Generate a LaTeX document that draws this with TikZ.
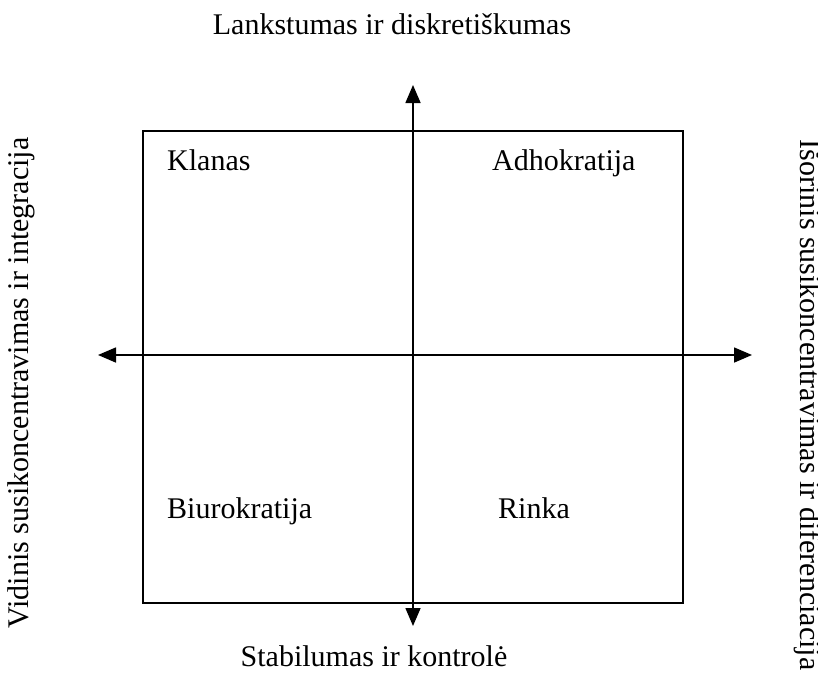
\documentclass[tikz,border=0pt]{standalone}
\usepackage{fontspec}
\setmainfont{Liberation Serif}
\usetikzlibrary{arrows.meta}
\tikzset{qaxis/.style={{Triangle[length=18pt,width=15pt]}-{Triangle[length=18pt,width=15pt]}, line width=1.6pt},
  qlabel/.style={anchor=base west, inner sep=0pt, font=\fontsize{30}{36}\selectfont},
  qtitle/.style={anchor=base, inner sep=0pt, font=\fontsize{30}{36}\selectfont}}

\begin{document}
\begin{tikzpicture}[x=1pt, y=-1pt]
\useasboundingbox (0,0) rectangle (818,672);
\node[draw, line width=1.6pt, minimum width=540pt, minimum height=472pt, inner sep=0pt] (frame) at (413,367) {};
\coordinate (top) at (413,85);
\coordinate (bot) at (413,626);
\coordinate (lft) at (98,355);
\coordinate (rgt) at (752,355);
\draw[qaxis] (bot) -- (top);
\draw[qaxis] (lft) -- (rgt);
\node[qlabel] (klan) at (167,170) {Klanas};
\node[qlabel] (adho) at (492,170) {Adhokratija};
\node[qlabel] (biur) at (167,518) {Biurokratija};
\node[qlabel] (rink) at (498,518) {Rinka};
\node[qtitle] (lank) at (392,34) {Lankstumas ir diskretiškumas};
\node[qtitle] (stab) at (374,666) {Stabilumas ir kontrolė};
\node[qtitle, rotate=90] (vidi) at (28,383) {Vidinis susikoncentravimas ir integracija};
\node[qtitle, rotate=-90] (isor) at (800,405) {Išorinis susikoncentravimas ir diferenciacija};
\end{tikzpicture}
\end{document}
